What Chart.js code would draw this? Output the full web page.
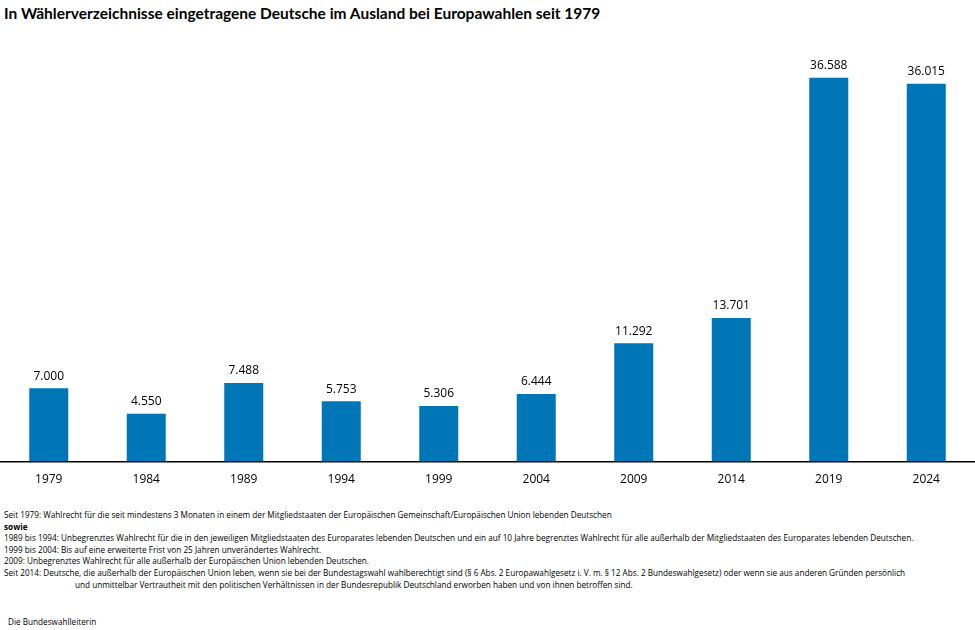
<!DOCTYPE html>
<html>
<head>
<meta charset="utf-8">
<script src="https://cdn.jsdelivr.net/npm/chart.js@4.4.0/dist/chart.umd.min.js"></script>
<style>
  body { margin: 0; width: 975px; height: 630px; background: #fff; position: relative; overflow: hidden; font-family: "Open Sans", sans-serif; }
  #title { position: absolute; left: 4px; top: 4px; font-family: Lato, sans-serif; font-weight: bold; font-size: 15.5px; color: #000; }
  #wrap { position: absolute; left: 0; top: 30px; width: 975px; height: 468px; }
  #notes { position: absolute; left: 4px; top: 509px; font-size: 8.2px; line-height: 11.6px; color: #000; font-family: "Open Sans", sans-serif; }
  #notes .ind { padding-left: 71px; }
  #src { position: absolute; left: 8px; top: 616px; font-size: 8.2px; color: #000; }
</style>
</head>
<body>
<div id="title">In Wählerverzeichnisse eingetragene Deutsche im Ausland bei Europawahlen seit 1979</div>
<div id="wrap"><canvas id="chart"></canvas></div>
<div id="notes">
  <div>Seit 1979: Wahlrecht für die seit mindestens 3 Monaten in einem der Mitgliedstaaten der Europäischen Gemeinschaft/Europäischen Union lebenden Deutschen</div>
  <div><b>sowie</b></div>
  <div>1989 bis 1994: Unbegrenztes Wahlrecht für die in den jeweiligen Mitgliedstaaten des Europarates lebenden Deutschen und ein auf 10 Jahre begrenztes Wahlrecht für alle außerhalb der Mitgliedstaaten des Europarates lebenden Deutschen.</div>
  <div>1999 bis 2004: Bis auf eine erweiterte Frist von 25 Jahren unverändertes Wahlrecht.</div>
  <div>2009: Unbegrenztes Wahlrecht für alle außerhalb der Europäischen Union lebenden Deutschen.</div>
  <div>Seit 2014: Deutsche, die außerhalb der Europäischen Union leben, wenn sie bei der Bundestagswahl wahlberechtigt sind (§ 6 Abs. 2 Europawahlgesetz i. V. m. § 12 Abs. 2 Bundeswahlgesetz) oder wenn sie aus anderen Gründen persönlich</div>
  <div class="ind">und unmittelbar Vertrautheit mit den politischen Verhältnissen in der Bundesrepublik Deutschland erworben haben und von ihnen betroffen sind.</div>
</div>
<div id="src">Die Bundeswahlleiterin</div>
<script>
var years = ["1979", "1984", "1989", "1994", "1999", "2004", "2009", "2014", "2019", "2024"];
var voters = [7000, 4550, 7488, 5753, 5306, 6444, 11292, 13701, 36588, 36015];

var valueLabels = {
    id: "valueLabels",
    afterDatasetsDraw: function (chart) {
        var c = chart.ctx;
        var meta = chart.getDatasetMeta(0);
        c.save();
        c.font = "12px 'Open Sans', sans-serif";
        c.fillStyle = "#000";
        c.textAlign = "center";
        c.textBaseline = "bottom";
        meta.data.forEach(function (bar, i) {
            c.fillText(voters[i].toLocaleString("de-DE"), bar.x, bar.y - 6);
        });
        c.restore();
    },
};

var ctx = document.getElementById("chart");
var chart = new Chart(ctx, {
    type: "bar",
    data: {
        labels: years,
        datasets: [
            {
                label: "Deutsche im Ausland",
                data: voters,
                backgroundColor: "#0076b6",
                barPercentage: 0.4,
                categoryPercentage: 1,
            },
        ],
    },
    options: {
        responsive: true,
        maintainAspectRatio: false,
        animation: false,
        layout: { padding: { top: 12, left: 0, right: 0, bottom: 0 } },
        plugins: {
            legend: { display: false },
            tooltip: { enabled: false },
        },
        scales: {
            x: {
                grid: { display: false, drawTicks: false },
                border: { color: "#000", width: 1.5 },
                ticks: { color: "#000", font: { family: "Open Sans", size: 12 }, padding: 11 },
            },
            y: {
                display: false,
                min: 0,
                max: 40000,
            },
        },
    },
    plugins: [valueLabels],
});
</script>
</body>
</html>
